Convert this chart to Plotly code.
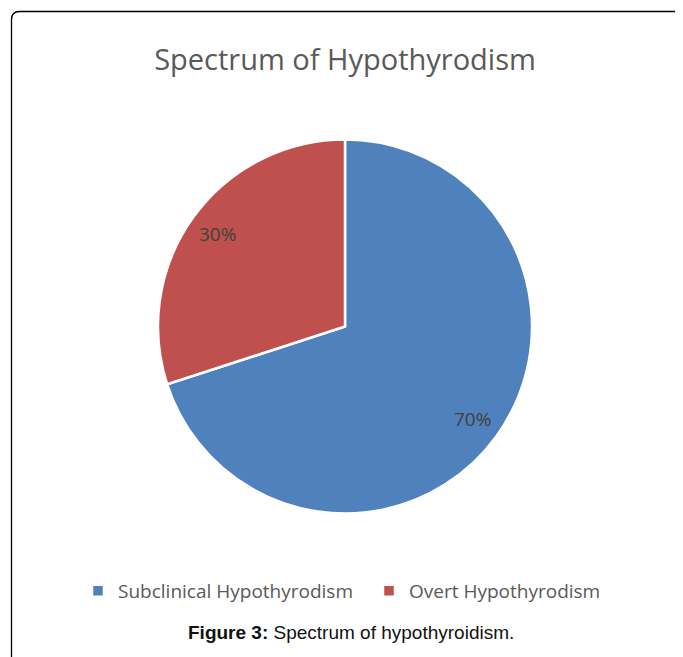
import math
import plotly.graph_objects as go

categories = ["Subclinical Hypothyrodism", "Overt Hypothyrodism"]
values = [70, 30]
colors = ["#4F81BD", "#C0504D"]
title_text = "Spectrum of Hypothyrodism"
caption_html = "<b>Figure 3:</b> Spectrum of hypothyroidism."

# the page adds an 8px body margin, so the figure is 8px smaller and
# every reference pixel position is shifted by OFF
OFF = 8
W, H = 683 - OFF, 657 - OFF


def px(x):
    return (x - OFF) / W


def py(y):
    return 1 - (y - OFF) / H


cx_ref, cy_ref, r_px = 345, 326.5, 187

fig = go.Figure()
fig.add_trace(go.Pie(
    labels=categories,
    values=values,
    sort=False,
    direction="clockwise",
    rotation=0,
    marker=dict(colors=colors, line=dict(color="white", width=2.5)),
    textinfo="none",
    hoverinfo="label+percent",
    domain=dict(x=[px(cx_ref - r_px), px(cx_ref + r_px)],
                y=[py(cy_ref + r_px), py(cy_ref - r_px)]),
))

# percentage labels placed along each slice's mid-angle
total = sum(values)
annotations = []
start = 0.0
for v in values:
    frac = v / total
    mid = (start + frac / 2) * 2 * math.pi
    start += frac
    dx = math.sin(mid) * r_px * 0.84
    dy = math.cos(mid) * r_px * 0.84
    annotations.append(dict(
        x=px(cx_ref + dx), y=py(cy_ref - dy), xref="paper", yref="paper",
        text=f"{round(frac * 100)}%", showarrow=False,
        font=dict(family="Open Sans", size=19, color="#404040"),
        xanchor="center", yanchor="middle",
    ))

annotations.append(dict(
    x=px(351), y=py(632), xref="paper", yref="paper",
    text=caption_html, showarrow=False,
    font=dict(family="Liberation Sans, Arial", size=19, color="#111111"),
    xanchor="center", yanchor="middle",
))

x0 = px(11.5)
y1 = py(11.5)
rc = 8
border_path = (
    f"M {x0},-0.05 L {x0},{py(11.5 + rc)} "
    f"Q {x0},{y1} {px(11.5 + rc)},{y1} L 1.05,{y1}"
)

fig.update_layout(
    width=W, height=H,
    margin=dict(l=0, r=0, t=0, b=0),
    paper_bgcolor="white",
    plot_bgcolor="white",
    title=dict(text=title_text, x=px(345), xanchor="center",
               y=py(60), yanchor="middle", yref="paper",
               font=dict(family="Open Sans", size=29, color="#595959")),
    showlegend=True,
    legend=dict(orientation="h", x=px(78), xanchor="left",
                y=py(591), yanchor="middle",
                font=dict(family="Open Sans", size=19, color="#595959"),
                itemwidth=30, entrywidth=246, traceorder="normal"),
    annotations=annotations,
    shapes=[dict(type="path", path=border_path, xref="paper", yref="paper",
                 line=dict(color="black", width=1.3))],
)

fig.write_html("out.html")
